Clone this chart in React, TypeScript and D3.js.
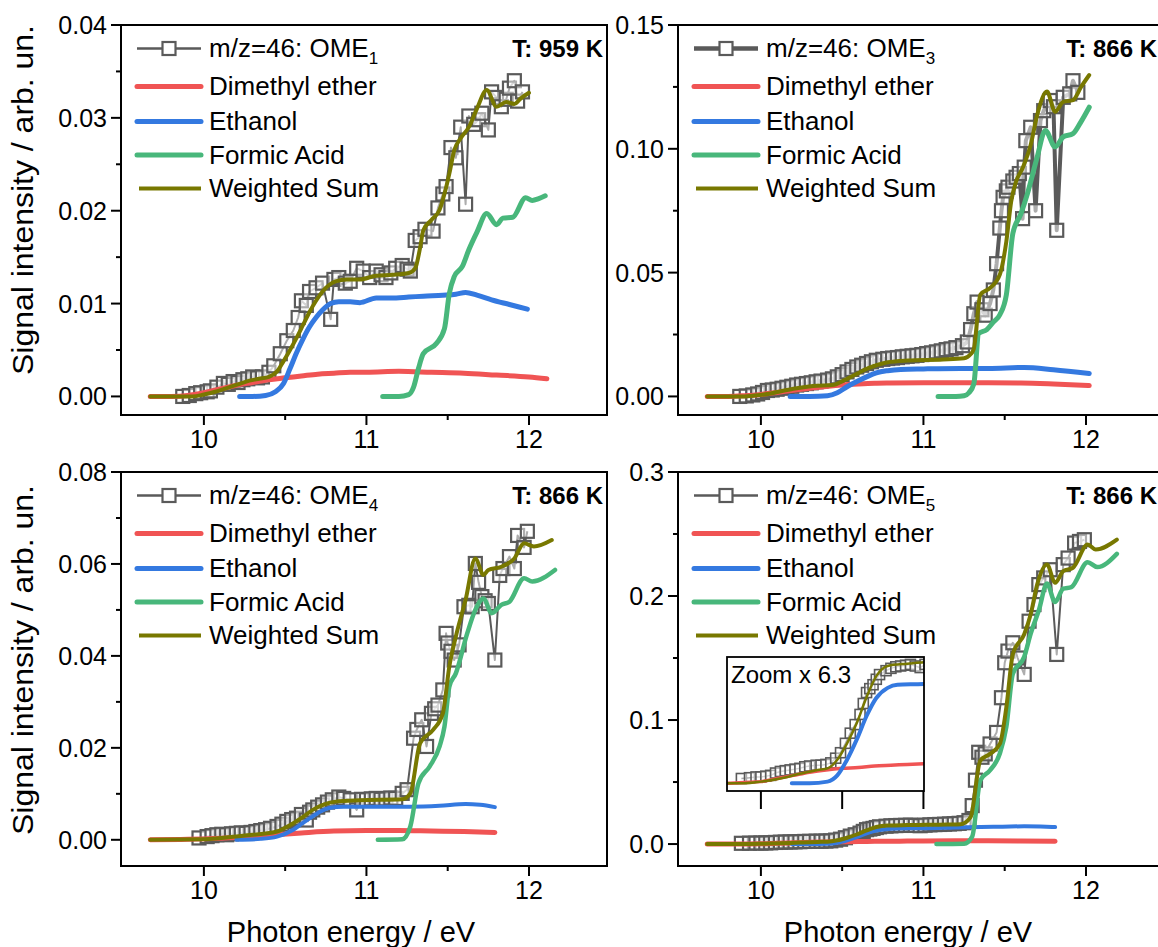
import React from 'react';
import * as d3 from 'd3';

type P = [number, number];

// ---------- DATA ----------
const X_DOMAIN: [number, number] = [9.49, 12.48];
const X_MAJOR = [10, 11, 12];
const X_MINOR = [10.5, 11.5];

const LEGEND_NAMES = ['m/z=46: OME', 'Dimethyl ether', 'Ethanol', 'Formic Acid', 'Weighted Sum'];
const OME_SUBS = ['1', '3', '4', '5'];
const TEMPS = ['T: 959 K', 'T: 866 K', 'T: 866 K', 'T: 866 K'];

const Y_DOMAINS: [number, number][] = [[-0.002, 0.04], [-0.0075, 0.15], [-0.0057, 0.08], [-0.0177, 0.3]];
const Y_TICKS = [
  [0, 0.01, 0.02, 0.03, 0.04],
  [0, 0.05, 0.1, 0.15],
  [0, 0.02, 0.04, 0.06, 0.08],
  [0, 0.1, 0.2, 0.3],
];
const Y_DECIMALS = [2, 2, 2, 1];

// Panel 1: OME1, 959 K
const TL_MEAS: P[] = [[9.87,0.0000],[9.91,0.0001],[9.95,0.0003],[9.98,0.0004],[10.02,0.0005],[10.04,0.0006],[10.08,0.0010],[10.12,0.0014],[10.15,0.0013],[10.18,0.0016],[10.21,0.0015],[10.24,0.0018],[10.27,0.0019],[10.30,0.0021],[10.33,0.0020],[10.36,0.0021],[10.40,0.0026],[10.43,0.0033],[10.47,0.0046],[10.51,0.0060],[10.55,0.0071],[10.58,0.0085],[10.60,0.0103],[10.63,0.0098],[10.65,0.0113],[10.69,0.0117],[10.73,0.0122],[10.78,0.0083],[10.80,0.0126],[10.83,0.0128],[10.87,0.0122],[10.90,0.0124],[10.94,0.0138],[10.98,0.0135],[11.02,0.0128],[11.06,0.0135],[11.09,0.0131],[11.12,0.0128],[11.15,0.0133],[11.18,0.0138],[11.22,0.0141],[11.25,0.0137],[11.27,0.0135],[11.30,0.0168],[11.33,0.0172],[11.36,0.0180],[11.41,0.0178],[11.44,0.0203],[11.47,0.0218],[11.49,0.0226],[11.52,0.0268],[11.55,0.0257],[11.58,0.0290],[11.61,0.0207],[11.63,0.0302],[11.66,0.0293],[11.69,0.0298],[11.71,0.0305],[11.75,0.0287],[11.77,0.0328],[11.80,0.0322],[11.83,0.0312],[11.86,0.0320],[11.88,0.0332],[11.91,0.0340],[11.93,0.0318],[11.96,0.0328]];
const TL_DME: P[] = [[9.67,0],[9.8,0],[9.9,0.0001],[10.0,0.0004],[10.1,0.0008],[10.2,0.0012],[10.3,0.0015],[10.4,0.0018],[10.5,0.0020],[10.6,0.0022],[10.7,0.0024],[10.8,0.0025],[10.9,0.0026],[11.0,0.0026],[11.2,0.0027],[11.4,0.0026],[11.6,0.0025],[11.8,0.0023],[12.0,0.0021],[12.11,0.0019]];
const TL_ETOH: P[] = [[10.22,0],[10.3,0],[10.38,0.0001],[10.44,0.0005],[10.49,0.0014],[10.53,0.0030],[10.57,0.0047],[10.61,0.0062],[10.65,0.0075],[10.69,0.0085],[10.73,0.0093],[10.78,0.0100],[10.83,0.0102],[10.9,0.0102],[10.96,0.0101],[11.06,0.0106],[11.15,0.0106],[11.26,0.0107],[11.35,0.0108],[11.47,0.0109],[11.55,0.0110],[11.61,0.0112],[11.68,0.0109],[11.77,0.0104],[11.88,0.0099],[11.99,0.0094]];
const TL_FA: P[] = [[11.10,0],[11.2,0],[11.26,0.0002],[11.29,0.0010],[11.32,0.0030],[11.35,0.0046],[11.43,0.0057],[11.48,0.0073],[11.51,0.0111],[11.54,0.0129],[11.59,0.0140],[11.63,0.0158],[11.68,0.0177],[11.74,0.0197],[11.80,0.0185],[11.84,0.0192],[11.90,0.0193],[11.98,0.0214],[12.02,0.0211],[12.06,0.0213],[12.1,0.0216]];
const TL_SUM: P[] = [[9.67,0],[9.93,0],[10.0,0.0002],[10.07,0.0005],[10.14,0.0009],[10.21,0.0013],[10.28,0.0017],[10.34,0.0019],[10.40,0.0021],[10.45,0.0027],[10.49,0.0038],[10.53,0.0050],[10.57,0.0063],[10.61,0.0077],[10.65,0.0091],[10.69,0.0103],[10.73,0.0113],[10.77,0.0120],[10.81,0.0124],[10.88,0.0126],[10.96,0.0126],[11.06,0.0130],[11.16,0.0131],[11.26,0.0133],[11.30,0.0138],[11.33,0.0160],[11.35,0.0179],[11.40,0.0190],[11.45,0.0201],[11.49,0.0225],[11.51,0.0240],[11.54,0.0265],[11.58,0.0278],[11.63,0.0290],[11.68,0.0310],[11.74,0.0330],[11.80,0.0312],[11.86,0.0317],[11.91,0.0315],[11.95,0.0321],[12.0,0.0327]];

// Panel 2: OME3, 866 K
const TR_MEAS: P[] = [[9.87,0.0000],[9.91,0.0002],[9.95,0.0006],[9.98,0.0010],[10.01,0.0016],[10.04,0.0024],[10.07,0.0026],[10.10,0.0029],[10.13,0.0033],[10.16,0.0037],[10.19,0.0041],[10.22,0.0046],[10.25,0.0049],[10.28,0.0052],[10.31,0.0055],[10.34,0.0059],[10.37,0.0062],[10.41,0.0066],[10.44,0.0071],[10.47,0.0079],[10.50,0.0088],[10.53,0.0099],[10.56,0.0109],[10.59,0.0119],[10.62,0.0126],[10.65,0.0133],[10.68,0.0140],[10.71,0.0146],[10.75,0.0150],[10.78,0.0153],[10.81,0.0155],[10.84,0.0157],[10.87,0.0160],[10.90,0.0162],[10.93,0.0164],[10.96,0.0166],[10.99,0.0169],[11.02,0.0173],[11.05,0.0176],[11.08,0.0180],[11.11,0.0184],[11.14,0.0189],[11.17,0.0192],[11.20,0.0197],[11.24,0.0205],[11.27,0.0220],[11.29,0.0270],[11.31,0.0334],[11.33,0.0381],[11.36,0.0350],[11.38,0.0328],[11.41,0.0375],[11.43,0.0430],[11.45,0.0536],[11.47,0.0680],[11.48,0.0750],[11.49,0.0804],[11.51,0.0830],[11.52,0.0845],[11.55,0.0870],[11.57,0.0885],[11.59,0.0900],[11.61,0.0718],[11.62,0.0926],[11.63,0.1033],[11.66,0.1087],[11.69,0.0750],[11.72,0.1114],[11.74,0.1154],[11.78,0.1195],[11.80,0.1170],[11.82,0.0671],[11.86,0.1208],[11.90,0.1222],[11.92,0.1275],[11.95,0.1228]];
const TR_DME: P[] = [[9.67,0],[9.8,0],[9.9,0.0003],[10.0,0.0008],[10.1,0.0016],[10.2,0.0025],[10.3,0.0033],[10.4,0.0040],[10.5,0.0046],[10.6,0.0050],[10.7,0.0053],[10.8,0.0054],[11.0,0.0055],[11.2,0.0055],[11.4,0.0055],[11.6,0.0054],[11.8,0.0050],[12.02,0.0044]];
const TR_ETOH: P[] = [[10.18,0],[10.3,0],[10.41,0.0003],[10.47,0.0015],[10.53,0.0039],[10.59,0.0060],[10.65,0.0079],[10.71,0.0095],[10.78,0.0104],[10.86,0.0109],[11.0,0.0111],[11.23,0.0113],[11.4,0.0113],[11.62,0.0117],[11.8,0.0108],[12.02,0.0093]];
const TR_FA: P[] = [[11.09,0],[11.2,0],[11.25,0.0003],[11.28,0.0015],[11.31,0.0051],[11.34,0.0254],[11.39,0.0270],[11.43,0.0300],[11.47,0.0330],[11.51,0.0410],[11.55,0.0658],[11.60,0.0738],[11.64,0.0819],[11.70,0.0967],[11.75,0.1074],[11.81,0.1008],[11.86,0.1048],[11.92,0.1061],[11.97,0.1110],[12.02,0.1168]];
const TR_SUM: P[] = [[9.67,0],[9.90,0],[9.95,0.0003],[10.06,0.0012],[10.13,0.0022],[10.20,0.0031],[10.32,0.0042],[10.45,0.0047],[10.49,0.0058],[10.53,0.0071],[10.59,0.0091],[10.65,0.0111],[10.71,0.0126],[10.78,0.0138],[10.90,0.0145],[11.12,0.0149],[11.25,0.0154],[11.29,0.0170],[11.31,0.0192],[11.35,0.0411],[11.41,0.0438],[11.47,0.0492],[11.51,0.0626],[11.54,0.0788],[11.57,0.0868],[11.61,0.0922],[11.66,0.1016],[11.70,0.1137],[11.76,0.1231],[11.81,0.1150],[11.86,0.1190],[11.92,0.1197],[11.97,0.1250],[12.02,0.1298]];

// Panel 3: OME4, 866 K
const BL_MEAS: P[] = [[9.97,0.0004],[10.02,0.0007],[10.05,0.0009],[10.08,0.0011],[10.11,0.0012],[10.14,0.0011],[10.17,0.0013],[10.20,0.0014],[10.23,0.0015],[10.26,0.0014],[10.29,0.0016],[10.32,0.0018],[10.35,0.0020],[10.38,0.0022],[10.41,0.0025],[10.45,0.0029],[10.48,0.0034],[10.51,0.0040],[10.54,0.0044],[10.57,0.0047],[10.60,0.0055],[10.63,0.0043],[10.65,0.0060],[10.67,0.0065],[10.70,0.0071],[10.73,0.0076],[10.76,0.0082],[10.79,0.0087],[10.83,0.0093],[10.86,0.0090],[10.90,0.0087],[10.94,0.0065],[10.97,0.0088],[11.00,0.0087],[11.03,0.0089],[11.06,0.0090],[11.09,0.0088],[11.12,0.0089],[11.15,0.0091],[11.18,0.0090],[11.22,0.0101],[11.25,0.0109],[11.29,0.0221],[11.31,0.0240],[11.34,0.0261],[11.37,0.0203],[11.40,0.0275],[11.42,0.0285],[11.44,0.0293],[11.47,0.0326],[11.49,0.0449],[11.50,0.0428],[11.52,0.0410],[11.54,0.0391],[11.57,0.0424],[11.60,0.0507],[11.63,0.0510],[11.65,0.0507],[11.67,0.0601],[11.69,0.0560],[11.71,0.0529],[11.73,0.0520],[11.75,0.0514],[11.79,0.0391],[11.82,0.0575],[11.84,0.0590],[11.88,0.0616],[11.91,0.0590],[11.93,0.0662],[11.97,0.0636],[11.99,0.0671]];
const BL_DME: P[] = [[9.67,0],[9.9,0.0001],[10.0,0.0002],[10.2,0.0005],[10.4,0.0010],[10.6,0.0015],[10.8,0.0019],[11.0,0.0020],[11.2,0.0020],[11.4,0.0019],[11.6,0.0018],[11.79,0.0016]];
const BL_ETOH: P[] = [[10.20,0],[10.35,0.0002],[10.45,0.0007],[10.55,0.0022],[10.61,0.0037],[10.67,0.0051],[10.72,0.0062],[10.77,0.0069],[10.86,0.0072],[11.0,0.0072],[11.27,0.0072],[11.45,0.0074],[11.61,0.0078],[11.70,0.0076],[11.79,0.0071]];
const BL_FA: P[] = [[11.07,0],[11.22,0.0001],[11.27,0.0029],[11.32,0.0123],[11.39,0.0160],[11.45,0.0203],[11.48,0.0246],[11.51,0.0333],[11.55,0.0362],[11.62,0.0449],[11.67,0.0500],[11.72,0.0525],[11.77,0.0493],[11.83,0.0511],[11.88,0.0518],[11.97,0.0569],[12.02,0.0562],[12.16,0.0587]];
const BL_SUM: P[] = [[9.67,0],[10.0,0.0001],[10.24,0.0009],[10.45,0.0018],[10.50,0.0026],[10.55,0.0036],[10.61,0.0050],[10.67,0.0065],[10.74,0.0077],[10.81,0.0083],[10.96,0.0086],[11.22,0.0088],[11.27,0.0101],[11.33,0.0210],[11.41,0.0239],[11.47,0.0275],[11.51,0.0377],[11.55,0.0442],[11.61,0.0522],[11.67,0.0612],[11.72,0.0576],[11.75,0.0587],[11.83,0.0594],[11.91,0.0612],[11.97,0.0645],[12.03,0.0638],[12.14,0.0652]];

// Panel 4: OME5, 866 K
const BR_MEAS: P[] = [[9.88,0.0006],[9.93,0.0007],[9.97,0.0008],[10.00,0.0008],[10.03,0.0009],[10.06,0.0010],[10.09,0.0013],[10.12,0.0015],[10.15,0.0016],[10.18,0.0017],[10.21,0.0018],[10.24,0.0019],[10.27,0.0021],[10.30,0.0022],[10.34,0.0023],[10.37,0.0023],[10.40,0.0024],[10.43,0.0026],[10.46,0.0032],[10.49,0.0039],[10.52,0.0051],[10.55,0.0064],[10.58,0.0075],[10.61,0.0088],[10.63,0.0102],[10.65,0.0116],[10.67,0.0121],[10.69,0.0126],[10.71,0.0133],[10.73,0.0139],[10.77,0.0144],[10.80,0.0147],[10.83,0.0149],[10.86,0.0150],[10.89,0.0151],[10.92,0.0152],[10.95,0.0150],[10.98,0.0148],[11.01,0.0152],[11.04,0.0155],[11.07,0.0157],[11.10,0.0158],[11.13,0.0160],[11.16,0.0162],[11.19,0.0164],[11.22,0.0167],[11.25,0.0172],[11.28,0.0190],[11.30,0.0310],[11.32,0.0515],[11.34,0.0740],[11.36,0.0700],[11.38,0.0727],[11.41,0.0807],[11.45,0.0900],[11.48,0.1180],[11.50,0.1462],[11.52,0.1556],[11.55,0.1623],[11.58,0.1500],[11.62,0.1368],[11.65,0.1797],[11.68,0.1931],[11.71,0.2092],[11.74,0.2146],[11.78,0.2212],[11.82,0.1529],[11.86,0.2253],[11.89,0.2306],[11.93,0.2427],[11.96,0.2440],[11.99,0.2454]];
const BR_DME: P[] = [[9.67,0],[9.8,0],[9.9,0.0001],[10.0,0.0002],[10.1,0.0006],[10.2,0.0010],[10.3,0.0014],[10.4,0.0017],[10.5,0.0019],[10.6,0.0020],[10.7,0.0022],[10.8,0.0023],[10.9,0.0024],[11.0,0.0025],[11.2,0.0026],[11.4,0.0026],[11.6,0.0025],[11.81,0.0023]];
const BR_ETOH: P[] = [[10.19,0],[10.3,0],[10.41,0.0002],[10.47,0.0010],[10.53,0.0030],[10.59,0.0056],[10.65,0.0086],[10.71,0.0109],[10.78,0.0122],[10.84,0.0126],[11.0,0.0127],[11.2,0.0133],[11.43,0.0139],[11.62,0.0143],[11.72,0.0141],[11.81,0.0137]];
const BR_FA: P[] = [[11.08,0],[11.25,0.0003],[11.30,0.0060],[11.35,0.0515],[11.41,0.0595],[11.47,0.0730],[11.51,0.0944],[11.55,0.1373],[11.62,0.1510],[11.66,0.1697],[11.71,0.1885],[11.76,0.2100],[11.81,0.1952],[11.86,0.2059],[11.91,0.2072],[12.01,0.2273],[12.07,0.2233],[12.19,0.2340]];
const BR_SUM: P[] = [[9.67,0],[9.9,0],[10.0,0.0002],[10.12,0.0006],[10.24,0.0012],[10.35,0.0017],[10.41,0.0019],[10.47,0.0030],[10.53,0.0051],[10.59,0.0077],[10.65,0.0110],[10.71,0.0137],[10.78,0.0150],[10.90,0.0153],[11.02,0.0155],[11.15,0.0157],[11.23,0.0160],[11.29,0.0217],[11.35,0.0673],[11.41,0.0727],[11.47,0.0807],[11.51,0.1102],[11.55,0.1531],[11.62,0.1692],[11.66,0.1853],[11.70,0.2094],[11.76,0.2255],[11.81,0.2107],[11.86,0.2201],[11.92,0.2228],[12.01,0.2415],[12.06,0.2375],[12.19,0.2455]];

const INSET_ZOOM = 6.3;
const INSET_X_TICKS = [10, 10.5, 11];

const SERIES = [
  { meas: TL_MEAS, dme: TL_DME, etoh: TL_ETOH, fa: TL_FA, sum: TL_SUM },
  { meas: TR_MEAS, dme: TR_DME, etoh: TR_ETOH, fa: TR_FA, sum: TR_SUM },
  { meas: BL_MEAS, dme: BL_DME, etoh: BL_ETOH, fa: BL_FA, sum: BL_SUM },
  { meas: BR_MEAS, dme: BR_DME, etoh: BR_ETOH, fa: BR_FA, sum: BR_SUM },
];

// ---------- STYLE / LAYOUT ----------
const FONT = "'Liberation Sans', Arial, Helvetica, sans-serif";
const C_MEAS = '#5a5a5a';
const C_DME = '#f05454';
const C_ETOH = '#3479e0';
const C_FA = '#48b77b';
const C_SUM = '#787800';
const LEGEND_COLORS = [C_MEAS, C_DME, C_ETOH, C_FA, C_SUM];

const FRAMES = [
  { left: 121, right: 607, top: 25, bottom: 415, col: 0, row: 0 },
  { left: 678, right: 1164, top: 25, bottom: 415, col: 1, row: 0 },
  { left: 121, right: 607, top: 472, bottom: 866, col: 0, row: 1 },
  { left: 678, right: 1164, top: 472, bottom: 866, col: 1, row: 1 },
];
const MEAS_WIDTH = [2, 4, 2, 2];
const LEGEND_BASE = [32, 70, 105, 138.5, 172];
const Y_TITLE_CY = [200, 660];
const INSET_BOX = { left: 727, right: 924, top: 657, bottom: 791 };

function Squares({ pts, x, y, size, sw }: any) {
  return (
    <g>
      {pts.map((d: P, i: number) => (
        <rect key={i} x={x(d[0]) - size / 2} y={y(d[1]) - size / 2} width={size} height={size}
          fill="#fff" fillOpacity={0.5} stroke={C_MEAS} strokeWidth={sw} />
      ))}
    </g>
  );
}

function Panel({ idx }: { idx: number }) {
  const f = FRAMES[idx];
  const s = SERIES[idx];
  const yd = Y_DOMAINS[idx];
  const x = d3.scaleLinear().domain(X_DOMAIN).range([f.left, f.right]);
  const y = d3.scaleLinear().domain(yd).range([f.bottom, f.top]);
  const smooth = d3.line<P>().x(d => x(d[0])).y(d => y(d[1])).curve(d3.curveMonotoneX);
  const lin = d3.line<P>().x(d => x(d[0])).y(d => y(d[1]));
  const yt = Y_TICKS[idx];
  const yMinor = yt.slice(0, -1).map((t, i) => (t + yt[i + 1]) / 2);
  const fmt = d3.format(`.${Y_DECIMALS[idx]}f`);
  const legX0 = f.left + 16;
  const legX1 = f.left + 80;
  const legText = f.left + 88;

  let inset = null;
  if (idx === 3) {
    const b = INSET_BOX;
    const kMain = (f.bottom - f.top) / (yd[1] - yd[0]);
    const span = (b.bottom - b.top) / (kMain * INSET_ZOOM);
    const y0 = -0.001;
    const yi = d3.scaleLinear().domain([y0, y0 + span]).range([b.bottom, b.top]);
    const sm = d3.line<P>().x(d => x(d[0])).y(d => yi(d[1])).curve(d3.curveMonotoneX);
    const ln = d3.line<P>().x(d => x(d[0])).y(d => yi(d[1]));
    inset = (
      <g>
        <defs>
          <clipPath id="insetClip">
            <rect x={b.left} y={b.top} width={b.right - b.left} height={b.bottom - b.top} />
          </clipPath>
        </defs>
        <rect x={b.left} y={b.top} width={b.right - b.left} height={b.bottom - b.top} fill="#fff" />
        <g clipPath="url(#insetClip)">
          <path d={ln(s.meas) || ''} fill="none" stroke={C_MEAS} strokeWidth={1.5} />
          <Squares pts={s.meas} x={x} y={yi} size={10} sw={1.6} />
          <path d={sm(s.dme) || ''} fill="none" stroke={C_DME} strokeWidth={3.5} strokeLinecap="round" />
          <path d={sm(s.etoh) || ''} fill="none" stroke={C_ETOH} strokeWidth={4} strokeLinecap="round" />
          <path d={sm(s.fa) || ''} fill="none" stroke={C_FA} strokeWidth={3.5} strokeLinecap="round" />
          <path d={sm(s.sum) || ''} fill="none" stroke={C_SUM} strokeWidth={2.5} strokeLinecap="round" />
        </g>
        <rect x={b.left} y={b.top} width={b.right - b.left} height={b.bottom - b.top} fill="none" stroke="#000" strokeWidth={1.8} />
        {INSET_X_TICKS.map(t => (
          <line key={t} x1={x(t)} x2={x(t)} y1={b.bottom} y2={b.bottom + 18} stroke="#000" strokeWidth={2} />
        ))}
        <text x={b.left + 4} y={b.top + 26} fontSize={24} fill="#000">Zoom x 6.3</text>
      </g>
    );
  }

  return (
    <g>
      {/* data */}
      <path d={lin(s.meas) || ''} fill="none" stroke={C_MEAS} strokeWidth={MEAS_WIDTH[idx]} strokeLinejoin="round" />
      <Squares pts={s.meas} x={x} y={y} size={13} sw={2.2} />
      <path d={smooth(s.dme) || ''} fill="none" stroke={C_DME} strokeWidth={5} strokeLinecap="round" />
      <path d={smooth(s.etoh) || ''} fill="none" stroke={C_ETOH} strokeWidth={f.row === 0 ? 5 : 4} strokeLinecap="round" />
      <path d={smooth(s.fa) || ''} fill="none" stroke={C_FA} strokeWidth={f.row === 0 ? 5 : 4.5} strokeLinecap="round" />
      <path d={smooth(s.sum) || ''} fill="none" stroke={C_SUM} strokeWidth={4} strokeLinecap="round" />

      {inset}

      {/* frame */}
      <rect x={f.left} y={f.top} width={f.right - f.left} height={f.bottom - f.top} fill="none" stroke="#000" strokeWidth={2} />

      {/* x ticks */}
      {X_MAJOR.map(t => (
        <g key={'xm' + t}>
          <line x1={x(t)} x2={x(t)} y1={f.bottom} y2={f.bottom + 10} stroke="#000" strokeWidth={2} />
          <text x={x(t)} y={f.bottom + 33} fontSize={25} textAnchor="middle">{t}</text>
        </g>
      ))}
      {X_MINOR.map(t => (
        <line key={'xn' + t} x1={x(t)} x2={x(t)} y1={f.bottom} y2={f.bottom + 5} stroke="#000" strokeWidth={2} />
      ))}

      {/* y ticks */}
      {yt.map(t => (
        <g key={'ym' + t}>
          <line x1={f.left - 10} x2={f.left} y1={y(t)} y2={y(t)} stroke="#000" strokeWidth={2} />
          <text x={f.left - 14} y={y(t)} dy="0.36em" fontSize={25} textAnchor="end">{fmt(t)}</text>
        </g>
      ))}
      {yMinor.map(t => (
        <line key={'yn' + t} x1={f.left - 5} x2={f.left} y1={y(t)} y2={y(t)} stroke="#000" strokeWidth={2} />
      ))}

      {/* legend */}
      {LEGEND_NAMES.map((name, i) => {
        const by = f.top + LEGEND_BASE[i];
        const ly = by - 8.5;
        const col = LEGEND_COLORS[i];
        return (
          <g key={name}>
            {i === 0 ? (
              <g>
                <line x1={legX0} x2={legX1} y1={ly} y2={ly} stroke={col} strokeWidth={MEAS_WIDTH[idx] + 0.5} />
                <rect x={(legX0 + legX1) / 2 - 6.5} y={ly - 6.5} width={13} height={13} fill="#fff" stroke={col} strokeWidth={2.2} />
              </g>
            ) : (
              <line x1={legX0 + (i === 4 ? 2 : 0)} x2={legX1} y1={ly} y2={ly} stroke={col}
                strokeWidth={i === 4 ? 4 : 5} strokeLinecap={i === 4 ? 'butt' : 'round'} />
            )}
            <text x={legText} y={by} fontSize={26}>
              {name}
              {i === 0 ? <tspan fontSize={17} dy={7}>{OME_SUBS[idx]}</tspan> : null}
            </text>
          </g>
        );
      })}

      {/* temperature */}
      <text x={f.right - (f.col === 0 ? 4 : 7)} y={f.top + 32} fontSize={24} fontWeight="bold" textAnchor="end">{TEMPS[idx]}</text>

      {/* axis titles */}
      {f.col === 0 ? (
        <text transform={`translate(33, ${Y_TITLE_CY[f.row]}) rotate(-90)`} fontSize={29} textAnchor="middle"
          textLength={350} lengthAdjust="spacingAndGlyphs">Signal intensity / arb. un.</text>
      ) : null}
      {f.row === 1 ? (
        <text x={(f.left + f.right) / 2 - 13} y={942} fontSize={29} textAnchor="middle">Photon energy / eV</text>
      ) : null}
    </g>
  );
}

export default function App() {
  return (
    <svg width={1158} height={947} viewBox="0 0 1158 947"
      style={{ position: 'absolute', left: 0, top: 0, display: 'block', background: '#fff' }}
      fontFamily={FONT}>
      <rect x={0} y={0} width={1158} height={947} fill="#fff" />
      {FRAMES.map((_, i) => <Panel key={i} idx={i} />)}
    </svg>
  );
}
